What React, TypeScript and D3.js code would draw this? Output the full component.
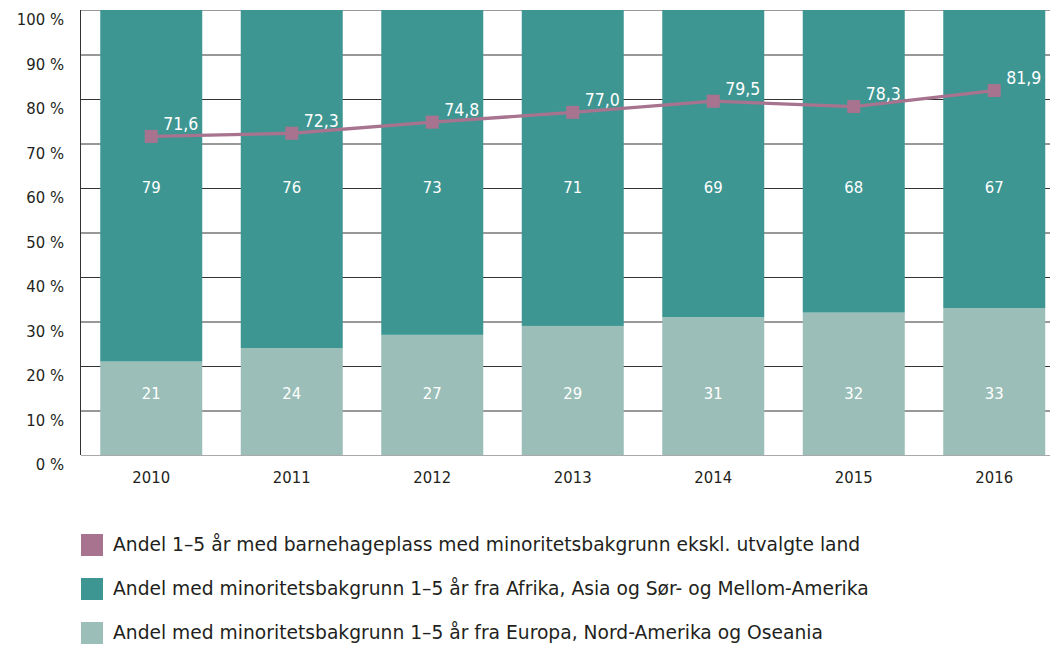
import * as d3 from 'd3';
import React, { useEffect, useRef } from 'react';

const years = ['2010', '2011', '2012', '2013', '2014', '2015', '2016'];
const europe = [21, 24, 27, 29, 31, 32, 33];
const africaAsia = [79, 76, 73, 71, 69, 68, 67];
const kindergarten = [71.6, 72.3, 74.8, 77.0, 79.5, 78.3, 81.9];
const yTicks = [0, 10, 20, 30, 40, 50, 60, 70, 80, 90, 100];
const legendLabels = [
    'Andel 1–5 år med barnehageplass med minoritetsbakgrunn ekskl. utvalgte land',
    'Andel med minoritetsbakgrunn 1–5 år fra Afrika, Asia og Sør- og Mellom-Amerika',
    'Andel med minoritetsbakgrunn 1–5 år fra Europa, Nord-Amerika og Oseania',
];

const PINK = '#a8738f';
const DARK = '#3e9692';
const LIGHT = '#9bbfb8';
const NUM_FONT = "'DejaVu Sans Condensed', sans-serif";
const TEXT_FONT = "'DejaVu Sans', sans-serif";

const App: React.FC = () => {
    const svgRef = useRef<SVGSVGElement | null>(null);

    useEffect(() => {
        const width = 1058;
        const height = 648;
        const left = 81;
        const top = 10;
        const bottom = 455;

        d3.select(svgRef.current).selectAll('*').remove();
        const svg = d3.select(svgRef.current)
            .attr('width', width)
            .attr('height', height)
            .style('font-family', NUM_FONT);

        const x = d3.scaleBand()
            .domain(years)
            .range([left, left + 7 * 140.5])
            .paddingInner(0.274)
            .paddingOuter(0.137);

        const y = d3.scaleLinear().domain([0, 100]).range([bottom, top]);

        // gridlines
        svg.append('g')
            .selectAll('line')
            .data(yTicks.filter(t => t > 0))
            .enter()
            .append('line')
            .attr('x1', left)
            .attr('x2', width)
            .attr('y1', d => y(d) + 0.5)
            .attr('y2', d => y(d) + 0.5)
            .attr('stroke', d => (d === 100 ? '#999' : '#333'))
            .attr('stroke-width', 1);

        // y tick labels (sit a little below their gridline)
        svg.append('g')
            .selectAll('text')
            .data(yTicks)
            .enter()
            .append('text')
            .attr('x', 64)
            .attr('y', d => y(d) + 9.5)
            .attr('dy', '0.35em')
            .attr('text-anchor', 'end')
            .attr('font-size', 16.5)
            .attr('fill', '#231f20')
            .text(d => `${d} %`);

        // stacked bars
        svg.append('g')
            .selectAll('rect')
            .data(years)
            .enter()
            .append('rect')
            .attr('x', d => x(d)!)
            .attr('y', (d, i) => y(europe[i]))
            .attr('width', x.bandwidth())
            .attr('height', (d, i) => y(0) - y(europe[i]))
            .attr('fill', LIGHT);

        svg.append('g')
            .selectAll('rect')
            .data(years)
            .enter()
            .append('rect')
            .attr('x', d => x(d)!)
            .attr('y', (d, i) => y(europe[i] + africaAsia[i]))
            .attr('width', x.bandwidth())
            .attr('height', (d, i) => y(europe[i]) - y(europe[i] + africaAsia[i]))
            .attr('fill', DARK);

        // axes lines
        svg.append('line')
            .attr('x1', left - 0.5).attr('x2', left - 0.5)
            .attr('y1', top).attr('y2', bottom)
            .attr('stroke', '#333');
        svg.append('line')
            .attr('x1', left).attr('x2', width)
            .attr('y1', bottom + 0.5).attr('y2', bottom + 0.5)
            .attr('stroke', '#aaa');

        // bar value labels
        const cx = (d: string) => x(d)! + x.bandwidth() / 2;
        svg.append('g')
            .selectAll('text')
            .data(years)
            .enter()
            .append('text')
            .attr('x', cx)
            .attr('y', y(13.8))
            .attr('dy', '0.35em')
            .attr('text-anchor', 'middle')
            .attr('font-size', 16.5)
            .attr('fill', '#fff')
            .text((d, i) => europe[i]);

        svg.append('g')
            .selectAll('text')
            .data(years)
            .enter()
            .append('text')
            .attr('x', cx)
            .attr('y', y(60.2))
            .attr('dy', '0.35em')
            .attr('text-anchor', 'middle')
            .attr('font-size', 16.5)
            .attr('fill', '#fff')
            .text((d, i) => africaAsia[i]);

        // line
        const line = d3.line<number>()
            .x((d, i) => cx(years[i]))
            .y(d => y(d));

        svg.append('path')
            .datum(kindergarten)
            .attr('d', line)
            .attr('fill', 'none')
            .attr('stroke', PINK)
            .attr('stroke-width', 3.3);

        svg.append('g')
            .selectAll('rect')
            .data(kindergarten)
            .enter()
            .append('rect')
            .attr('x', (d, i) => cx(years[i]) - 6.5)
            .attr('y', d => y(d) - 6.5)
            .attr('width', 13)
            .attr('height', 13)
            .attr('fill', PINK);

        svg.append('g')
            .selectAll('text')
            .data(kindergarten)
            .enter()
            .append('text')
            .attr('x', (d, i) => cx(years[i]) + 12)
            .attr('y', d => y(d) - 6.5)
            .attr('font-size', 17.5)
            .attr('fill', '#fff')
            .text(d => d.toFixed(1).replace('.', ','));

        // x labels
        svg.append('g')
            .selectAll('text')
            .data(years)
            .enter()
            .append('text')
            .attr('x', cx)
            .attr('y', 477)
            .attr('dy', '0.35em')
            .attr('text-anchor', 'middle')
            .attr('font-size', 16.5)
            .attr('fill', '#231f20')
            .text(d => d);

        // legend
        const colors = [PINK, DARK, LIGHT];
        const legend = svg.append('g')
            .selectAll('g')
            .data(legendLabels)
            .enter()
            .append('g')
            .attr('transform', (d, i) => `translate(81,${534 + i * 44})`);
        legend.append('rect')
            .attr('width', 22)
            .attr('height', 22)
            .attr('fill', (d, i) => colors[i]);
        legend.append('text')
            .attr('x', 32)
            .attr('y', 17)
            .attr('font-family', TEXT_FONT)
            .attr('font-size', 18.7)
            .attr('fill', '#231f20')
            .text(d => d);
    }, []);

    return <svg ref={svgRef} style={{ display: 'block', margin: '-8px 0 0 -8px', overflow: 'visible' }}></svg>;
};

export default App;
